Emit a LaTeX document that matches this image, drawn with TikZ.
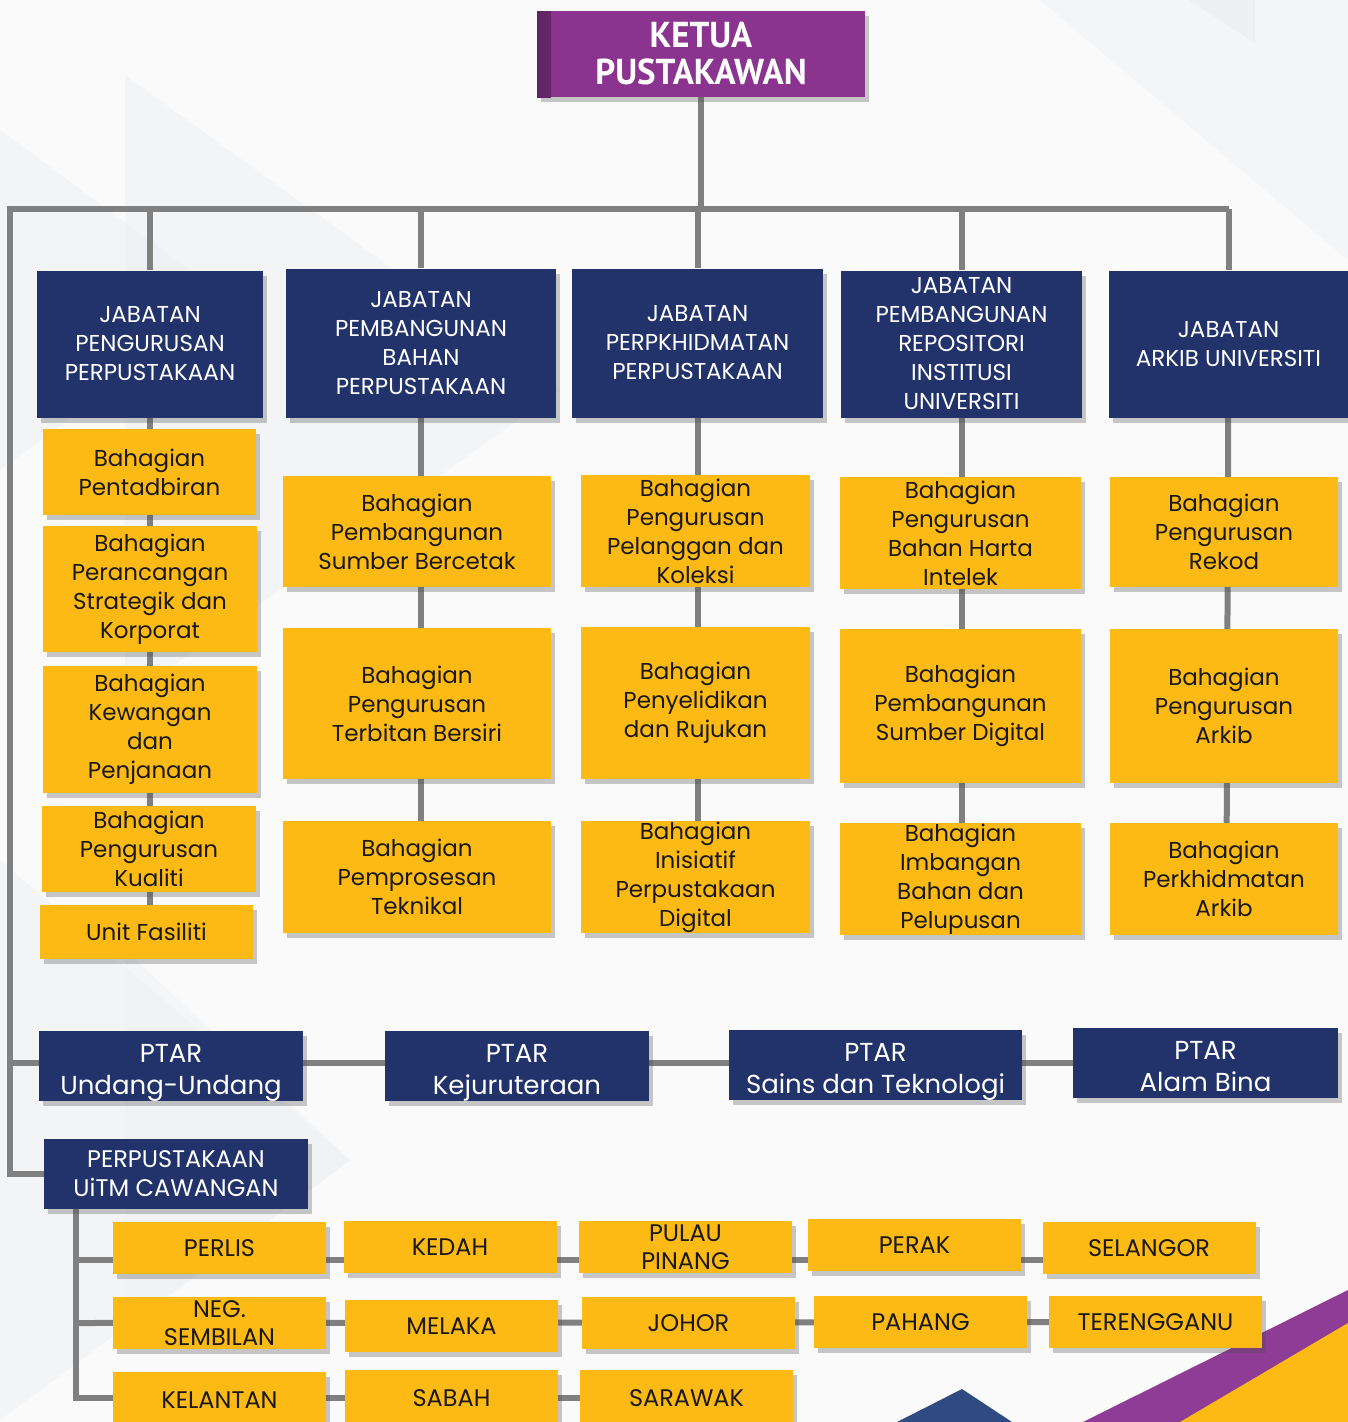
\documentclass[tikz,border=0pt]{standalone}
\usepackage{fontspec}
\setmainfont{Poppins}
\newfontfamily\chieffont[FakeStretch=0.97]{PT Sans}
\usetikzlibrary{shadows}
\definecolor{uitmnavy}{HTML}{22336B}
\definecolor{uitmgold}{HTML}{FDBA14}
\definecolor{uitmpurple}{HTML}{8B348F}
\definecolor{linegrey}{HTML}{808080}
\definecolor{decoblue}{HTML}{2F4B82}
\definecolor{decopurple}{HTML}{8E3C96}
\definecolor{bgshape}{HTML}{EDEFF3}
\pgfdeclarelayer{background}
\pgfsetlayers{background,main}
\tikzset{
  % shadow under every box
  box shadow/.style = {
    drop shadow={shadow xshift=4pt, shadow yshift=-5pt, opacity=0.3, fill=black!70}
  },
  % chief librarian
  chief box/.style 2 args = {
    fill=uitmpurple, text=white, align=center, inner sep=0pt,
    font=\chieffont\bfseries\fontsize{36}{37}\selectfont,
    minimum width=#1pt, minimum height=#2pt, box shadow,
    path picture={
      \shade[left color=uitmpurple!70!black, right color=uitmpurple]
        (path picture bounding box.south west)
        rectangle ([xshift=14pt]path picture bounding box.north west);
    }
  },
  % departments and branch library
  jabatan box/.style 2 args = {
    fill=uitmnavy, text=white, align=center, inner sep=0pt,
    font=\fontsize{23}{29}\selectfont,
    minimum width=#1pt, minimum height=#2pt, box shadow
  },
  % PTAR libraries
  ptar box/.style 2 args = {
    jabatan box={#1}{#2},
    font=\fontsize{26}{32}\selectfont,
    text height=63pt, text depth=7pt
  },
  % sections
  bahagian box/.style 2 args = {
    fill=uitmgold, text=black!90, align=center, inner sep=0pt,
    font=\fontsize{23}{29}\selectfont,
    minimum width=#1pt, minimum height=#2pt, box shadow
  },
  % states
  negeri box/.style = {
    bahagian box={213}{52},
    font=\fontsize{24}{28}\selectfont
  },
  % connectors
  org line/.style = {
    draw=linegrey, line width=6pt
  },
}

\begin{document}
\begin{tikzpicture}[x=1pt, y=-1pt]
  \useasboundingbox (0,0) rectangle (1348,1422);
  \clip (0,0) rectangle (1348,1422);

  \begin{pgfonlayer}{background}
    \fill[black!2] (0,0) rectangle (1348,1422);
    % faint triangles
    \fill[bgshape, opacity=0.5] (0,130) -- (230,300) -- (0,470) -- cycle;
    \fill[bgshape, opacity=0.5] (125,75) -- (560,390) -- (125,700) -- cycle;
    \fill[bgshape, opacity=0.5] (0,860) -- (350,1160) -- (0,1420) -- cycle;
    \fill[bgshape, opacity=0.4] (125,950) -- (350,1160) -- (125,1330) -- cycle;
    \fill[bgshape, opacity=0.4] (1040,0) -- (1348,0) -- (1348,260) -- cycle;
    \fill[bgshape] (1189,0) -- (1255,0) -- (1255,43) -- cycle;
    % corner
    \fill[decoblue] (897,1422) -- (962,1389) -- (1012,1422) -- cycle;
    \fill[decopurple] (1083,1422) -- (1348,1290) -- (1348,1422) -- cycle;
    \fill[uitmgold] (1180,1422) -- (1348,1323) -- (1348,1422) -- cycle;
  \end{pgfonlayer}

  \node[chief box={328}{86}] (ketua) at (701,54) {KETUA\\PUSTAKAWAN};

  % jabatan
  \node[jabatan box={226}{147}] (j1) at (150,344) {JABATAN\\PENGURUSAN\\PERPUSTAKAAN};
  \node[jabatan box={270}{149}] (j2) at (421,343) {JABATAN\\PEMBANGUNAN\\BAHAN\\PERPUSTAKAAN};
  \node[jabatan box={251}{149}] (j3) at (697.5,343) {JABATAN\\PERPKHIDMATAN\\PERPUSTAKAAN};
  \node[jabatan box={241}{147}] (j4) at (961.5,344) {JABATAN\\PEMBANGUNAN\\REPOSITORI\\INSTITUSI\\UNIVERSITI};
  \node[jabatan box={239}{147}] (j5) at (1228.5,344) {JABATAN\\ARKIB UNIVERSITI};

  % bahagian
  \node[bahagian box={213}{86}] (b1a) at (149.5,472) {Bahagian\\Pentadbiran};
  \node[bahagian box={214}{126}] (b1b) at (150,589) {Bahagian\\Perancangan\\Strategik dan\\Korporat};
  \node[bahagian box={214}{127}] (b1c) at (150,729.5) {Bahagian\\Kewangan\\dan\\Penjanaan};
  \node[bahagian box={214}{86}] (b1d) at (149,849) {Bahagian\\Pengurusan\\Kualiti};
  \node[bahagian box={213}{54}] (b1e) at (146.5,932) {Unit Fasiliti};

  \node[bahagian box={268}{111}] (b2a) at (417,531.5) {Bahagian\\Pembangunan\\Sumber Bercetak};
  \node[bahagian box={268}{151}] (b2b) at (417,703.5) {Bahagian\\Pengurusan\\Terbitan Bersiri};
  \node[bahagian box={268}{112}] (b2c) at (417,877) {Bahagian\\Pemprosesan\\Teknikal};

  \node[bahagian box={229}{112}] (b3a) at (695.5,531) {Bahagian\\Pengurusan\\Pelanggan dan\\Koleksi};
  \node[bahagian box={229}{152}] (b3b) at (695.5,703) {Bahagian\\Penyelidikan\\dan Rujukan};
  \node[bahagian box={229}{112}] (b3c) at (695.5,877) {Bahagian\\Inisiatif\\Perpustakaan\\Digital};

  \node[bahagian box={241}{112}] (b4a) at (960.5,533) {Bahagian\\Pengurusan\\Bahan Harta\\Intelek};
  \node[bahagian box={241}{154}] (b4b) at (960.5,706) {Bahagian\\Pembangunan\\Sumber Digital};
  \node[bahagian box={241}{112}] (b4c) at (960.5,879) {Bahagian\\Imbangan\\Bahan dan\\Pelupusan};

  \node[bahagian box={228}{110}] (b5a) at (1224,532) {Bahagian\\Pengurusan\\Rekod};
  \node[bahagian box={228}{154}] (b5b) at (1224,706) {Bahagian\\Pengurusan\\Arkib};
  \node[bahagian box={228}{112}] (b5c) at (1224,879) {Bahagian\\Perkhidmatan\\Arkib};

  % ptar
  \node[ptar box={264}{70}] (p1) at (171,1066) {PTAR\\Undang-Undang};
  \node[ptar box={264}{70}] (p2) at (517,1066) {PTAR\\Kejuruteraan};
  \node[ptar box={293}{70}] (p3) at (875.5,1065) {PTAR\\Sains dan Teknologi};
  \node[ptar box={265}{70}] (p4) at (1205.5,1063) {PTAR\\Alam Bina};

  % cawangan
  \node[jabatan box={264}{70}, font=\fontsize{24}{29}\selectfont] (caw) at (176,1174) {PERPUSTAKAAN\\UiTM CAWANGAN};

  \node[negeri box] (perlis) at (219.5,1248) {PERLIS};
  \node[negeri box] (kedah) at (450,1247) {KEDAH};
  \node[negeri box] (pinang) at (685.5,1247) {PULAU\\PINANG};
  \node[negeri box] (perak) at (914.5,1245) {PERAK};
  \node[negeri box] (selangor) at (1149,1248) {SELANGOR};
  \node[negeri box] (nsembilan) at (219.5,1323) {NEG.\\SEMBILAN};
  \node[negeri box] (melaka) at (451.5,1326) {MELAKA};
  \node[negeri box] (johor) at (688.5,1323) {JOHOR};
  \node[negeri box] (pahang) at (920.5,1322) {PAHANG};
  \node[negeri box] (terengganu) at (1155.5,1322) {TERENGGANU};
  \node[negeri box, minimum height=56pt] (kelantan) at (219.5,1400) {KELANTAN};
  \node[negeri box, minimum height=56pt] (sabah) at (451.5,1398) {SABAH};
  \node[negeri box, minimum height=56pt] (sarawak) at (686.5,1398) {SARAWAK};

  \coordinate (bar) at (10,209);
  \coordinate (trunk) at ([xshift=-100pt]caw.south);

  \begin{pgfonlayer}{background}
    \draw[org line] (ketua) -- (ketua |- bar);
    \draw[org line] (j5 |- bar) -- (bar) -- (bar |- caw) -- (caw);
    \foreach \j in {j1,j2,j3,j4,j5}
      \draw[org line] (\j |- bar) -- (\j);
    \draw[org line] (j1) -- (j1 |- b1e);
    \draw[org line] (j2) -- (j2 |- b2c);
    \draw[org line] (j3) -- (j3 |- b3c);
    \draw[org line] (j4) -- (j4 |- b4c);
    \draw[org line] (j5) -- ([xshift=-2pt]j5 |- b5c);
    \draw[org line] (bar |- p4) -- (p4);
    % negeri
    \draw[org line] (trunk) |- (sarawak);
    \draw[org line] ([yshift=-12pt]trunk |- perlis) -- ([yshift=-12pt]selangor.center);
    \draw[org line] (trunk |- nsembilan) -- (terengganu);
  \end{pgfonlayer}
\end{tikzpicture}
\end{document}
